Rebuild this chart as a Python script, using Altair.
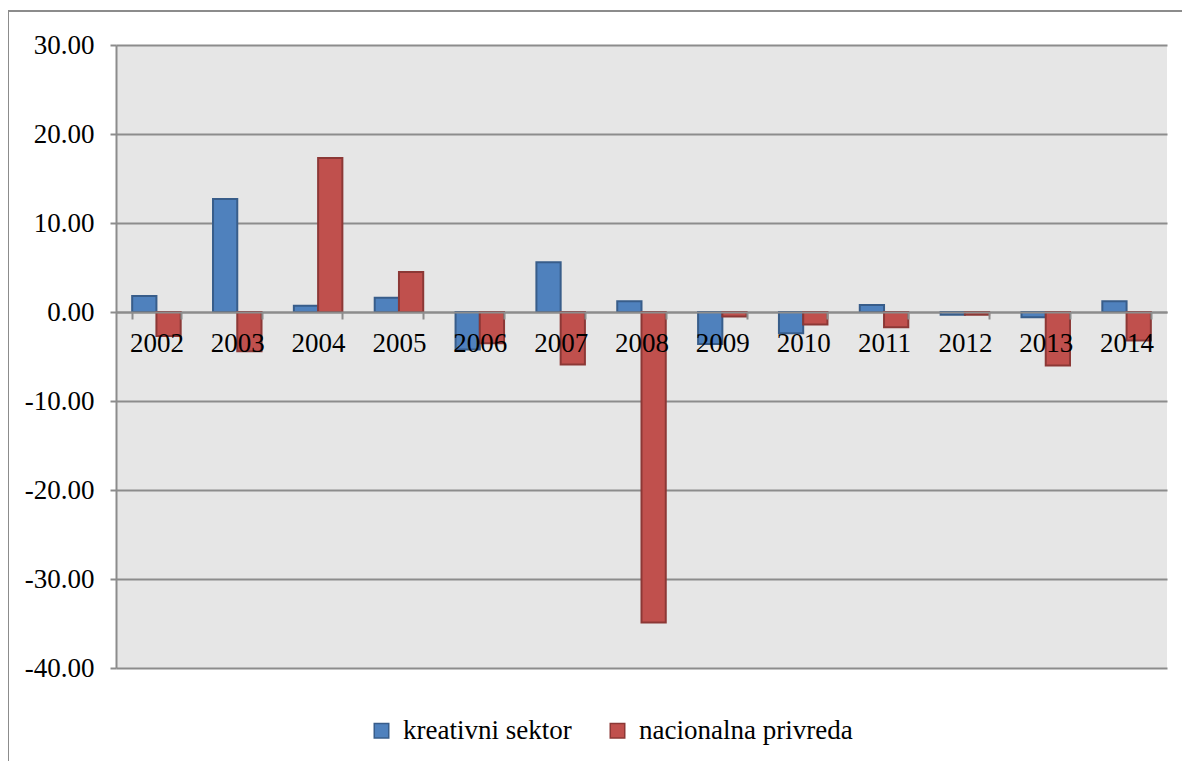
import altair as alt
import pandas as pd

years = [str(y) for y in range(2002, 2015)]
kreativni = [1.8, 12.7, 0.7, 1.6, -4.2, 5.6, 1.2, -3.6, -2.4, 0.8, -0.3, -0.6, 1.2]
nacionalna = [-2.7, -4.4, 17.3, 4.5, -3.5, -5.9, -34.9, -0.5, -1.4, -1.7, -0.3, -6.0, -3.2]
series = ["kreativni sektor", "nacionalna privreda"]
colors = ["#4f81bd", "#c0504d"]
strokes = ["#385d8a", "#8c3836"]

rows = []
for i, y in enumerate(years):
    rows.append({"year": y, "series": series[0], "value": kreativni[i]})
    rows.append({"year": y, "series": series[1], "value": nacionalna[i]})
df = pd.DataFrame(rows)

FONT = "Liberation Serif"
GRAY = "#8c8c8c"

bars = alt.Chart(df).mark_bar(strokeWidth=2).encode(
    x=alt.X("year:N", sort=years, title=None,
            scale=alt.Scale(paddingInner=0.4, paddingOuter=0.2),
            axis=alt.Axis(offset=-356, tickBand="extent", labelAngle=0,
                          tickSize=7, tickWidth=2, tickColor=GRAY,
                          domainColor=GRAY, domainWidth=2,
                          labelFont=FONT, labelFontSize=27, labelColor="black",
                          labelPadding=11, grid=False, zindex=1,
                          labelOverlap=False, labelBound=False)),
    xOffset=alt.XOffset("series:N", sort=series, scale=alt.Scale(paddingInner=0, paddingOuter=0)),
    y=alt.Y("value:Q", title=None,
            scale=alt.Scale(domain=[-40, 30], nice=False, zero=False),
            axis=alt.Axis(values=[-40, -30, -20, -10, 0, 10, 20, 30],
                          labelExpr="(datum.value < 0 ? '-' : '') + format(abs(datum.value), '.2f')",
                          grid=True, gridColor=GRAY, gridWidth=2,
                          tickSize=6, tickWidth=2, tickColor=GRAY,
                          domainColor=GRAY, domainWidth=2,
                          labelFont=FONT, labelFontSize=27, labelColor="black",
                          labelPadding=16)),
    color=alt.Color("series:N", sort=series,
                    scale=alt.Scale(domain=series, range=colors),
                    legend=alt.Legend(title=None, orient="none", direction="horizontal",
                                      legendX=252, legendY=672,
                                      symbolType="square", symbolSize=210,
                                      symbolStrokeWidth=1.5,
                                      labelFont=FONT, labelFontSize=27, labelColor="black",
                                      labelLimit=0,
                                      columnPadding=32, labelOffset=8)),
    stroke=alt.Stroke("series:N", sort=series,
                      scale=alt.Scale(domain=series, range=strokes), legend=None),
)

frame_left = alt.Chart(df).mark_rule(color=GRAY, strokeWidth=2).encode(
    x=alt.value(-108), y=alt.value(-34), y2=alt.value(740))
frame_top = alt.Chart(df).mark_rule(color=GRAY, strokeWidth=2).encode(
    x=alt.value(-108), x2=alt.value(1100), y=alt.value(-34))

chart = alt.layer(frame_left, frame_top, bars).properties(
    width=1051, height=623,
    autosize=alt.AutoSizeParams(type="none"),
    padding={"left": 108, "top": 37, "right": 15, "bottom": 93},
    background="white",
).configure(font=FONT).configure_view(fill="#e6e6e6", stroke=None)

chart.save("out.html", embed_options={"renderer": "svg", "actions": False})
